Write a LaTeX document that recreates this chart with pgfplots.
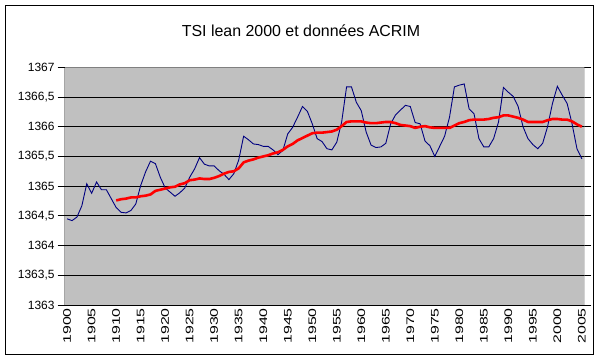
\documentclass[border=0pt]{standalone}
\usepackage{pgfplots}
\pgfplotsset{compat=1.18}
\usepackage{pgfplotstable}
\usepackage{fontspec}
\setmainfont{Liberation Sans}
\definecolor{plotgray}{RGB}{192,192,192}
\definecolor{navyline}{RGB}{0,0,128}
\definecolor{bordergray}{RGB}{128,128,128}

\pgfplotstableread{
year tsi
1900 1364.45
1901 1364.42
1902 1364.48
1903 1364.67
1904 1365.04
1905 1364.88
1906 1365.07
1907 1364.94
1908 1364.94
1909 1364.79
1910 1364.64
1911 1364.56
1912 1364.55
1913 1364.59
1914 1364.70
1915 1365.01
1916 1365.24
1917 1365.42
1918 1365.38
1919 1365.15
1920 1364.97
1921 1364.90
1922 1364.83
1923 1364.89
1924 1364.97
1925 1365.15
1926 1365.29
1927 1365.48
1928 1365.37
1929 1365.34
1930 1365.34
1931 1365.26
1932 1365.20
1933 1365.11
1934 1365.21
1935 1365.44
1936 1365.84
1937 1365.78
1938 1365.71
1939 1365.70
1940 1365.67
1941 1365.67
1942 1365.61
1943 1365.53
1944 1365.60
1945 1365.88
1946 1365.99
1947 1366.16
1948 1366.34
1949 1366.26
1950 1366.05
1951 1365.80
1952 1365.75
1953 1365.63
1954 1365.61
1955 1365.74
1956 1366.08
1957 1366.67
1958 1366.67
1959 1366.41
1960 1366.27
1961 1365.91
1962 1365.69
1963 1365.65
1964 1365.66
1965 1365.72
1966 1366.05
1967 1366.20
1968 1366.28
1969 1366.36
1970 1366.34
1971 1366.07
1972 1366.05
1973 1365.76
1974 1365.68
1975 1365.50
1976 1365.67
1977 1365.84
1978 1366.16
1979 1366.67
1980 1366.70
1981 1366.72
1982 1366.30
1983 1366.22
1984 1365.80
1985 1365.66
1986 1365.66
1987 1365.80
1988 1366.08
1989 1366.66
1990 1366.58
1991 1366.51
1992 1366.34
1993 1366.00
1994 1365.80
1995 1365.70
1996 1365.63
1997 1365.72
1998 1366.00
1999 1366.39
2000 1366.68
2001 1366.53
2002 1366.39
2003 1366.05
2004 1365.63
2005 1365.46
}\tsidata

\pgfplotstableread{
year avg
1910 1364.76
1911 1364.78
1912 1364.79
1913 1364.81
1914 1364.81
1915 1364.83
1916 1364.84
1917 1364.86
1918 1364.92
1919 1364.94
1920 1364.96
1921 1364.98
1922 1364.99
1923 1365.03
1924 1365.05
1925 1365.10
1926 1365.11
1927 1365.13
1928 1365.12
1929 1365.12
1930 1365.14
1931 1365.17
1932 1365.21
1933 1365.24
1934 1365.25
1935 1365.30
1936 1365.40
1937 1365.43
1938 1365.45
1939 1365.48
1940 1365.50
1941 1365.52
1942 1365.55
1943 1365.57
1944 1365.61
1945 1365.67
1946 1365.71
1947 1365.77
1948 1365.81
1949 1365.85
1950 1365.89
1951 1365.90
1952 1365.90
1953 1365.91
1954 1365.92
1955 1365.95
1956 1366.01
1957 1366.08
1958 1366.09
1959 1366.09
1960 1366.09
1961 1366.07
1962 1366.06
1963 1366.06
1964 1366.07
1965 1366.08
1966 1366.08
1967 1366.06
1968 1366.03
1969 1366.02
1970 1366.01
1971 1365.98
1972 1366.00
1973 1366.01
1974 1365.99
1975 1365.98
1976 1365.98
1977 1365.98
1978 1365.98
1979 1366.02
1980 1366.06
1981 1366.08
1982 1366.11
1983 1366.12
1984 1366.12
1985 1366.12
1986 1366.13
1987 1366.15
1988 1366.16
1989 1366.19
1990 1366.19
1991 1366.17
1992 1366.15
1993 1366.12
1994 1366.08
1995 1366.08
1996 1366.08
1997 1366.08
1998 1366.11
1999 1366.13
2000 1366.13
2001 1366.12
2002 1366.12
2003 1366.09
2004 1366.04
2005 1366.00
}\avgdata

\begin{document}
\begin{tikzpicture}[x=1bp,y=1bp]
\useasboundingbox (-64.7,-53) rectangle (534.3,305);
\begin{axis}[
  at={(0,0)}, anchor=south west,
  scale only axis, width=519.6bp, height=237.7bp,
  xmin=1899.5, xmax=2005.5, ymin=1363, ymax=1367,
  axis background/.style={fill=plotgray},
  axis line style={draw=none},
  ytick={1363,1363.5,1364,1364.5,1365,1365.5,1366,1366.5,1367},
  ymajorgrids, grid style={black, line width=0.8bp},
  xtick=\empty,
  minor xtick={1899.5,1900.5,...,2005.5},
  extra x ticks={1900,1905,...,2005},
  extra x tick style={major tick length=0pt, xticklabel style={rotate=90, anchor=east, inner sep=0pt, inner xsep=3bp}},
  xticklabel={\scalebox{1.45}[1]{\pgfmathprintnumber{\tick}}},
  tick align=outside,
  major tick length=7bp, minor tick length=4.5bp,
  tick style={black, line width=0.8bp},
  /pgf/number format/.cd, use comma, 1000 sep={}, assume math mode=true,
  /pgfplots/.cd,
  yticklabel style={font=\fontsize{12}{14}\selectfont, inner sep=0pt, xshift=-3bp},
  xticklabel style={font=\fontsize{11}{12}\selectfont},
  clip=true,
]
\addplot[navyline, line width=0.9bp, no marks] table[x=year, y=tsi] {\tsidata};
\addplot[red, line width=2.6bp, no marks, line join=round] table[x=year, y=avg] {\avgdata};
\draw[bordergray, line width=0.9bp] (rel axis cs:0,1) -- (rel axis cs:1,1) -- (rel axis cs:1,0);
\draw[black, line width=0.9bp] (rel axis cs:0,1) -- (rel axis cs:0,0) -- (rel axis cs:1,0);
\end{axis}
\draw[black, line width=0.9bp] (-59,-49) rectangle (528.3,300);
\node[anchor=base, inner sep=0pt, font=\fontsize{16}{19}\selectfont] at (236.3,268.5) {TSI lean 2000 et données ACRIM};
\end{tikzpicture}
\end{document}
